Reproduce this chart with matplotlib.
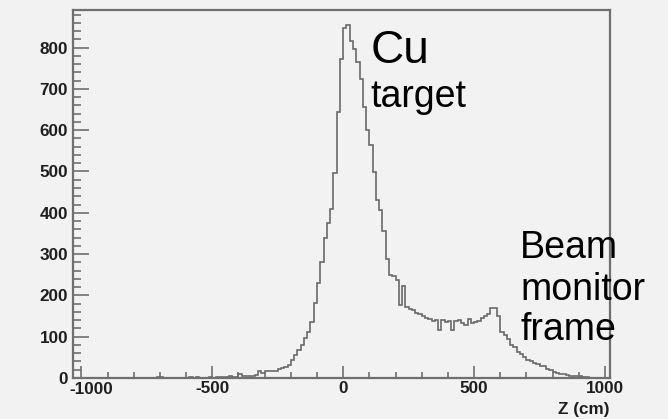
import numpy as np
import matplotlib
matplotlib.use("Agg")
import matplotlib.pyplot as plt
from matplotlib.ticker import MultipleLocator
from matplotlib.transforms import ScaledTranslation

# Z histogram, 12.5 cm bins from -1000 to 1000 cm
bin_width = 12.5
z_start = -1000.0

counts_far_left = [  # -1000 .. -412.5
    0, 0, 0, 0, 0, 1, 0, 0, 0, 0, 0, 0, 1, 0, 0, 0,
    0, 1, 0, 0, 0, 0, 1, 3, 2, 1, 0, 1, 0, 0, 1, 1,
    0, 2, 1, 2, 1, 0, 1, 2, 1, 2, 3, 2, 3, 4, 2, 3,
]
counts_rise = [  # -400 .. -12.5
    10, 5, 5, 6, 6, 7, 18, 12, 18, 17, 16, 17, 21, 25, 27, 31,
    43, 55, 67, 79, 96, 112, 136, 182, 229, 281, 338, 375, 409, 497, 645, 772,
]
counts_peak = [  # 0 .. 187.5
    847, 855, 815, 796, 766, 725, 657, 600, 564, 499, 432, 406, 356, 289, 249, 246,
]
counts_valley = [  # 200 .. 587.5
    237, 176, 222, 172, 168, 164, 158, 155, 150, 146, 142, 138, 140, 116, 140, 136,
    138, 116, 138, 140, 132, 128, 144, 132, 136, 138, 146, 150, 156, 170, 170, 150,
]
counts_tail = [  # 600 .. 987.5
    112, 103, 95, 80, 75, 63, 58, 52, 44, 40, 37, 33, 30, 28, 22, 20,
    15, 12, 10, 9, 7, 6, 5, 4, 5, 2, 3, 1, 1, 0, 0, 0,
]

x_ticks = [-1000, -500, 0, 500, 1000]
y_ticks = [0, 100, 200, 300, 400, 500, 600, 700, 800]
x_label = "Z (cm)"

counts = np.array(counts_far_left + counts_rise + counts_peak + counts_valley + counts_tail)
edges = z_start + bin_width * np.arange(len(counts) + 1)

bg = "#f2f2f2"
frame_col = "#6f6f6f"
plt.rcParams["font.family"] = ["Liberation Sans", "DejaVu Sans"]
plt.rcParams["axes.unicode_minus"] = False

fig = plt.figure(figsize=(6.68, 4.19), dpi=100, facecolor=bg)
ax = fig.add_axes([73 / 668, 41 / 419, 537 / 668, 368 / 419], facecolor=bg)

ax.stairs(counts, edges, color="#6a6a6a", lw=1.2, baseline=0)

ax.set_xlim(-1032, 1019)
ax.set_ylim(0, 891)

for side in ax.spines.values():
    side.set_color(frame_col)
    side.set_linewidth(1.6)

ax.set_xticks(x_ticks)
ax.set_yticks(y_ticks)
ax.xaxis.set_minor_locator(MultipleLocator(100))
ax.yaxis.set_minor_locator(MultipleLocator(20))
ax.tick_params(axis="both", which="both", direction="in", colors=frame_col,
               labelcolor="#1e1e1e", width=1.2, top=False, right=False)
ax.tick_params(axis="y", which="major", length=11.5, pad=3.5)
ax.tick_params(axis="y", which="minor", length=5.8)
ax.tick_params(axis="x", which="major", length=8.6, pad=2.5)
ax.tick_params(axis="x", which="minor", length=4.3)
for lab in ax.get_xticklabels() + ax.get_yticklabels():
    lab.set_fontweight("bold")
    lab.set_fontsize(12.3)

# ROOT nudges the first x label right so it clears the y "0"
first = ax.get_xticklabels()[0]
first.set_transform(first.get_transform() + ScaledTranslation(10 / 100, -1 / 100, fig.dpi_scale_trans))

ax.set_xlabel(x_label, loc="right", fontsize=12.3, fontweight="bold",
              color="#1e1e1e", labelpad=3)

ax.text(103, 763, "Cu", fontsize=33, va="baseline", ha="left")
ax.text(103, 657, "target", fontsize=27, va="baseline", ha="left")
ax.text(676, 290, "Beam", fontsize=27, va="baseline", ha="left")
ax.text(676, 188, "monitor", fontsize=27, va="baseline", ha="left")
ax.text(676, 91, "frame", fontsize=27, va="baseline", ha="left")

fig.savefig("out.png", dpi=100, facecolor=bg)
